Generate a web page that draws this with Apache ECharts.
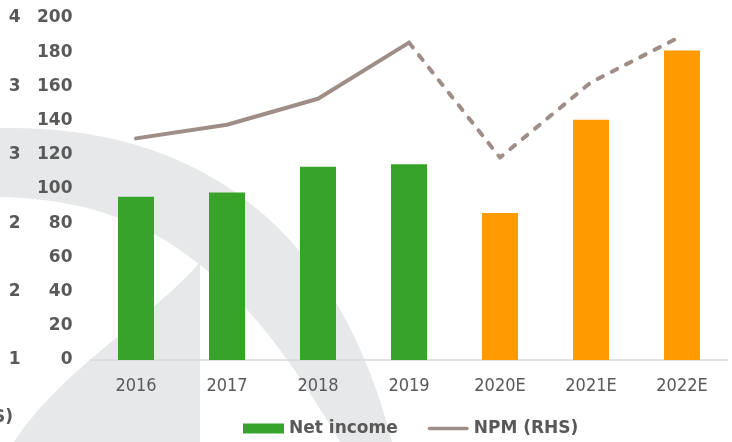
<!DOCTYPE html>
<html>
<head>
<meta charset="utf-8">
<script src="https://cdn.jsdelivr.net/npm/echarts@6/dist/echarts.min.js"></script>
<style>
  html, body { margin: 0; padding: 0; background: #ffffff; }
  #chart { width: 732px; height: 442px; }
</style>
</head>
<body>
<div id="chart"></div>
<script>
// ---- data ----
const categories = ['2016', '2017', '2018', '2019', '2020E', '2021E', '2022E'];
const isForecast = [false, false, false, false, true, true, true];
const netIncome = [95.5, 98, 113, 114.5, 86, 140.5, 181];
const npmActual = [31.2, 32.2, 34.1, 38.2, null, null, null];
const npmForecast = [null, null, null, 38.2, 29.8, 35.3, 38.7];
const leftAxisTicks = { min: 0, max: 200, interval: 20 };
const npmAxisTicks = { min: 15, max: 40, interval: 5 };

// ---- styles ----
const GREEN = '#38a32a';
const ORANGE = '#ff9a00';
const LINE = '#9f8d87';
const TEXT = '#595959';
const WM = '#e7e8ea';
const BOLD = 'DejaVu Sans';

// watermark outline (decoration only)
function bez(p0, p1, p2, p3, n) {
  const pts = [];
  for (let i = 0; i <= n; i++) {
    const t = i / n, u = 1 - t;
    pts.push([
      u*u*u*p0[0] + 3*u*u*t*p1[0] + 3*u*t*t*p2[0] + t*t*t*p3[0],
      u*u*u*p0[1] + 3*u*u*t*p1[1] + 3*u*t*t*p2[1] + t*t*t*p3[1]
    ]);
  }
  return pts;
}
const outer = bez([0,128],[170,125],[330,200],[392,442],40);
const inner = bez([0,197],[150,200],[240,270],[340,442],40).reverse();
const band = outer.concat(inner);
const cres = bez([14,442],[60,370],[150,320],[200,262],40).concat([[200,442]]);

const chart = echarts.init(document.getElementById('chart'), null, { renderer: 'canvas' });

chart.setOption({
  animation: false,
  backgroundColor: '#ffffff',
  graphic: [
    { type: 'polygon', z: -10, shape: { points: band }, style: { fill: WM } },
    { type: 'polygon', z: -10, shape: { points: cres }, style: { fill: WM } },
    { type: 'text', z: 5, x: 13, y: 418,
      style: { text: 'NPM (RHS)', align: 'right', verticalAlign: 'middle',
               font: 'bold 17px "DejaVu Sans"', fill: TEXT } }
  ],
  grid: { left: 90.5, right: 4.5, top: 18, bottom: 82, containLabel: false },
  legend: {
    left: 243, top: 420, padding: 0,
    itemWidth: 41, itemHeight: 10, itemGap: 30,
    textStyle: { color: TEXT, fontFamily: BOLD, fontWeight: 'bold', fontSize: 17 },
    data: [
      { name: 'Net income', icon: 'rect' },
      { name: 'NPM (RHS)', icon: 'path://M2,0H43A2,2,0,0,1,43,4H2A2,2,0,0,1,2,0Z' }
    ]
  },
  xAxis: {
    type: 'category',
    data: categories,
    axisLine: { lineStyle: { color: '#d9d9d9', width: 1.5 } },
    axisTick: { show: false },
    axisLabel: { color: TEXT, fontFamily: 'DejaVu Sans Condensed, Liberation Sans', fontSize: 18, margin: 17 },
    splitLine: { show: false }
  },
  yAxis: [
    {
      type: 'value',
      min: leftAxisTicks.min, max: leftAxisTicks.max, interval: leftAxisTicks.interval,
      axisLine: { show: false }, axisTick: { show: false }, splitLine: { show: false },
      axisLabel: { color: TEXT, fontFamily: BOLD, fontWeight: 'bold', fontSize: 17, margin: 18 }
    },
    {
      type: 'value', position: 'left', offset: 62,
      min: npmAxisTicks.min, max: npmAxisTicks.max, interval: npmAxisTicks.interval,
      axisLine: { show: false }, axisTick: { show: false }, splitLine: { show: false },
      axisLabel: { color: TEXT, fontFamily: BOLD, fontWeight: 'bold', fontSize: 17, margin: 8,
                   formatter: function (v) { return String(v).charAt(0); } }
    }
  ],
  series: [
    {
      name: 'Net income', type: 'bar', yAxisIndex: 0, barWidth: 36,
      itemStyle: { color: GREEN },
      data: netIncome.map((v, i) => ({ value: v, itemStyle: { color: isForecast[i] ? ORANGE : GREEN } }))
    },
    {
      name: 'NPM (RHS)', type: 'line', yAxisIndex: 1, symbol: 'none', z: 4,
      lineStyle: { color: LINE, width: 4, cap: 'round', join: 'round' },
      itemStyle: { color: LINE },
      data: npmActual
    },
    {
      name: 'NPM (RHS) forecast', type: 'line', yAxisIndex: 1, symbol: 'none', z: 4,
      lineStyle: { color: LINE, width: 4, type: [6, 10], cap: 'round', join: 'round' },
      itemStyle: { color: LINE },
      data: npmForecast
    }
  ]
});
</script>
</body>
</html>
